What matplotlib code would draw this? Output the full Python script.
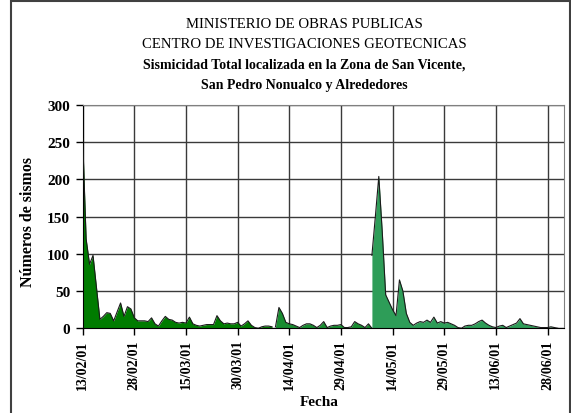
# Sismicidad total - San Vicente / San Pedro Nonualco, area chart
import pandas as pd
import matplotlib
matplotlib.use('Agg')
import matplotlib.pyplot as plt
import matplotlib.dates as mdates
from matplotlib.patches import Rectangle

plt.rcParams['font.family'] = ['Liberation Serif', 'DejaVu Serif']

# daily counts, three periods (each drawn in its own shade of green)
start_1 = '2001-02-13'
sismos_1 = [255, 120, 86, 98, 55, 12, 16, 21, 20, 10,
            22, 34, 16, 29, 26, 14, 10, 10, 10, 9,
            14, 6, 3, 10, 16, 12, 11, 8, 7, 8,
            7, 15, 6, 4, 3, 4, 5, 5, 5, 17,
            10, 6, 7, 6, 6, 8, 3, 6, 10, 4,
            1, 0, 2, 3, 3, 2]
start_2 = '2001-04-10'
sismos_2 = [2, 28, 20, 8, 6, 5, 3, 1, 4, 6,
            6, 4, 1, 4, 9, 1, 3, 4, 4, 5,
            1, 1, 2, 9, 6, 4, 1, 6, 0]
start_3 = '2001-05-08'
sismos_3 = [98, 150, 204, 130, 45, 35, 25, 17, 65, 50,
            20, 8, 4, 7, 9, 8, 11, 8, 15, 7,
            9, 7, 8, 6, 4, 1, 0, 3, 4, 4,
            6, 9, 11, 7, 4, 2, 1, 3, 4, 1,
            3, 5, 7, 13, 6, 5, 4, 3, 2, 1,
            1, 1, 2, 1, 0]

colores = ['#007c00', '#188c30', '#2e9d58']

titulo = ['MINISTERIO DE OBRAS PUBLICAS',
          'CENTRO DE INVESTIGACIONES GEOTECNICAS',
          'Sismicidad Total localizada en la Zona de San Vicente,',
          'San Pedro Nonualco y Alrededores']

fig = plt.figure(figsize=(5.71, 4.14), dpi=100)
ax = fig.add_axes([0.1448, 0.2046, 0.8424, 0.5394])

for inicio, vals, col in zip([start_1, start_2, start_3],
                             [sismos_1, sismos_2, sismos_3], colores):
    fechas = pd.date_range(inicio, periods=len(vals), freq='D')
    ax.fill_between(fechas, vals, 0, color=col, lw=0, zorder=2)
    ax.plot(fechas, vals, color='#1a1a1a', lw=0.8, zorder=3)

x0 = pd.Timestamp(start_1)
ax.set_xlim(x0, x0 + pd.Timedelta(days=139.7))
ax.set_ylim(0, 300)
ax.set_yticks(range(0, 301, 50))
ax.set_xticks(pd.date_range(x0, periods=10, freq='15D'))
ax.xaxis.set_major_formatter(mdates.DateFormatter('%d/%m/%y'))

ax.grid(True, color='#3a3a3a', lw=1.0, zorder=1)
ax.set_axisbelow(True)
for s in ['top', 'right']:
    ax.spines[s].set_color('#808080')
for s in ['left', 'bottom']:
    ax.spines[s].set_color('black')
ax.tick_params(axis='both', direction='out', length=5, width=1, color='black')
ax.tick_params(axis='x', rotation=90, labelsize=10, pad=3)
ax.tick_params(axis='y', labelsize=11, pad=4)
for lab in ax.get_xticklabels() + ax.get_yticklabels():
    lab.set_fontweight('bold')

fig.text(28 / 571, 1 - 222 / 414, 'Números de sismos', rotation=90,
         ha='center', va='center', fontsize=11.5, fontweight='bold')
fig.text(319 / 571, 1 - 403 / 414, 'Fecha', ha='center', va='center',
         fontsize=11, fontweight='bold')

ys = [25, 45, 65, 85]
for i, (t, y) in enumerate(zip(titulo, ys)):
    if i < 2:
        fig.text(304 / 571, 1 - y / 414, t, ha='center', va='center', fontsize=10.6)
    else:
        fig.text(304 / 571, 1 - y / 414, t, ha='center', va='center', fontsize=10,
                 fontweight='bold')

fig.patches.append(Rectangle((11 / 571, -0.01), 559 / 571, 1 - 2 / 414 + 0.01,
                             transform=fig.transFigure, fill=False,
                             edgecolor='#404040', lw=1.5))

fig.savefig('out.png', dpi=100)
